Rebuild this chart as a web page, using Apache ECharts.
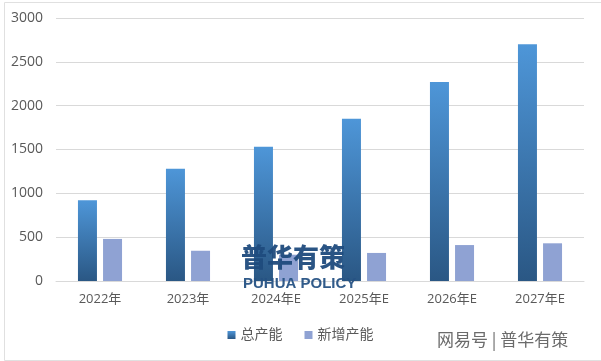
<!DOCTYPE html>
<html><head><meta charset="utf-8">
<script src="https://cdn.jsdelivr.net/npm/echarts@6/dist/echarts.min.js"></script>
<style>html,body{margin:0;padding:0;background:#fff}#c{width:601px;height:361px}</style>
</head><body><div id="c"></div>
<script>
var categories = ['2022年','2023年','2024年E','2025年E','2026年E','2027年E'];
var totalCapacity = [920, 1280, 1530, 1850, 2270, 2700];
var newCapacity = [480, 345, 300, 320, 410, 430];
var seriesNames = ['总产能','新增产能'];
var chart = echarts.init(document.getElementById('c'));
var font = '"Open Sans","Noto Sans CJK SC",sans-serif';
chart.setOption({
  animation:false,
  backgroundColor:'#fff',
  grid:{left:56,right:17,top:18,bottom:80,containLabel:false},
  legend:{
    data:seriesNames, bottom:14, left:'center', itemWidth:8, itemHeight:8, itemGap:22,
    icon:'rect',
    textStyle:{color:'#595959',fontSize:14,fontFamily:font}
  },
  xAxis:{type:'category',data:categories,
    axisLine:{lineStyle:{color:'#d9d9d9'}},axisTick:{show:false},
    axisLabel:{color:'#595959',fontSize:13,fontFamily:font,margin:12}},
  yAxis:{type:'value',min:0,max:3000,interval:500,
    axisLine:{show:false},axisTick:{show:false},
    splitLine:{lineStyle:{color:'#d9d9d9'}},
    axisLabel:{color:'#595959',fontSize:14,fontFamily:font,margin:13,formatter:function(v){return String(v);}}},
  series:[
    {name:seriesNames[0],type:'bar',data:totalCapacity,barWidth:19,barGap:'32%',
     itemStyle:{color:new echarts.graphic.LinearGradient(0,0,0,1,[{offset:0,color:'#4e96d8'},{offset:1,color:'#2a5784'}])}},
    {name:seriesNames[1],type:'bar',data:newCapacity,barWidth:19,
     itemStyle:{color:'#8fa2d3'}}
  ],
  graphic:[
    {type:'rect',left:2,top:0,shape:{width:597,height:358},style:{fill:'none',stroke:'#e0e0e0',lineWidth:1},silent:true},
    {type:'text',left:241,top:244,z:100,style:{text:'普华有策',font:'900 26px "Noto Sans CJK SC",sans-serif',fill:'rgba(31,75,125,0.95)'}},
    {type:'text',left:243,top:276,z:100,style:{text:'PUHUA POLICY',font:'bold 15px "Liberation Sans",Arial,sans-serif',fill:'rgba(38,82,132,0.95)'}},
    {type:'text',left:437,top:331,z:100,style:{text:'网易号 | 普华有策',font:'17px "Noto Sans CJK SC",sans-serif',fill:'#6b6b6b'}}
  ]
});
</script></body></html>
